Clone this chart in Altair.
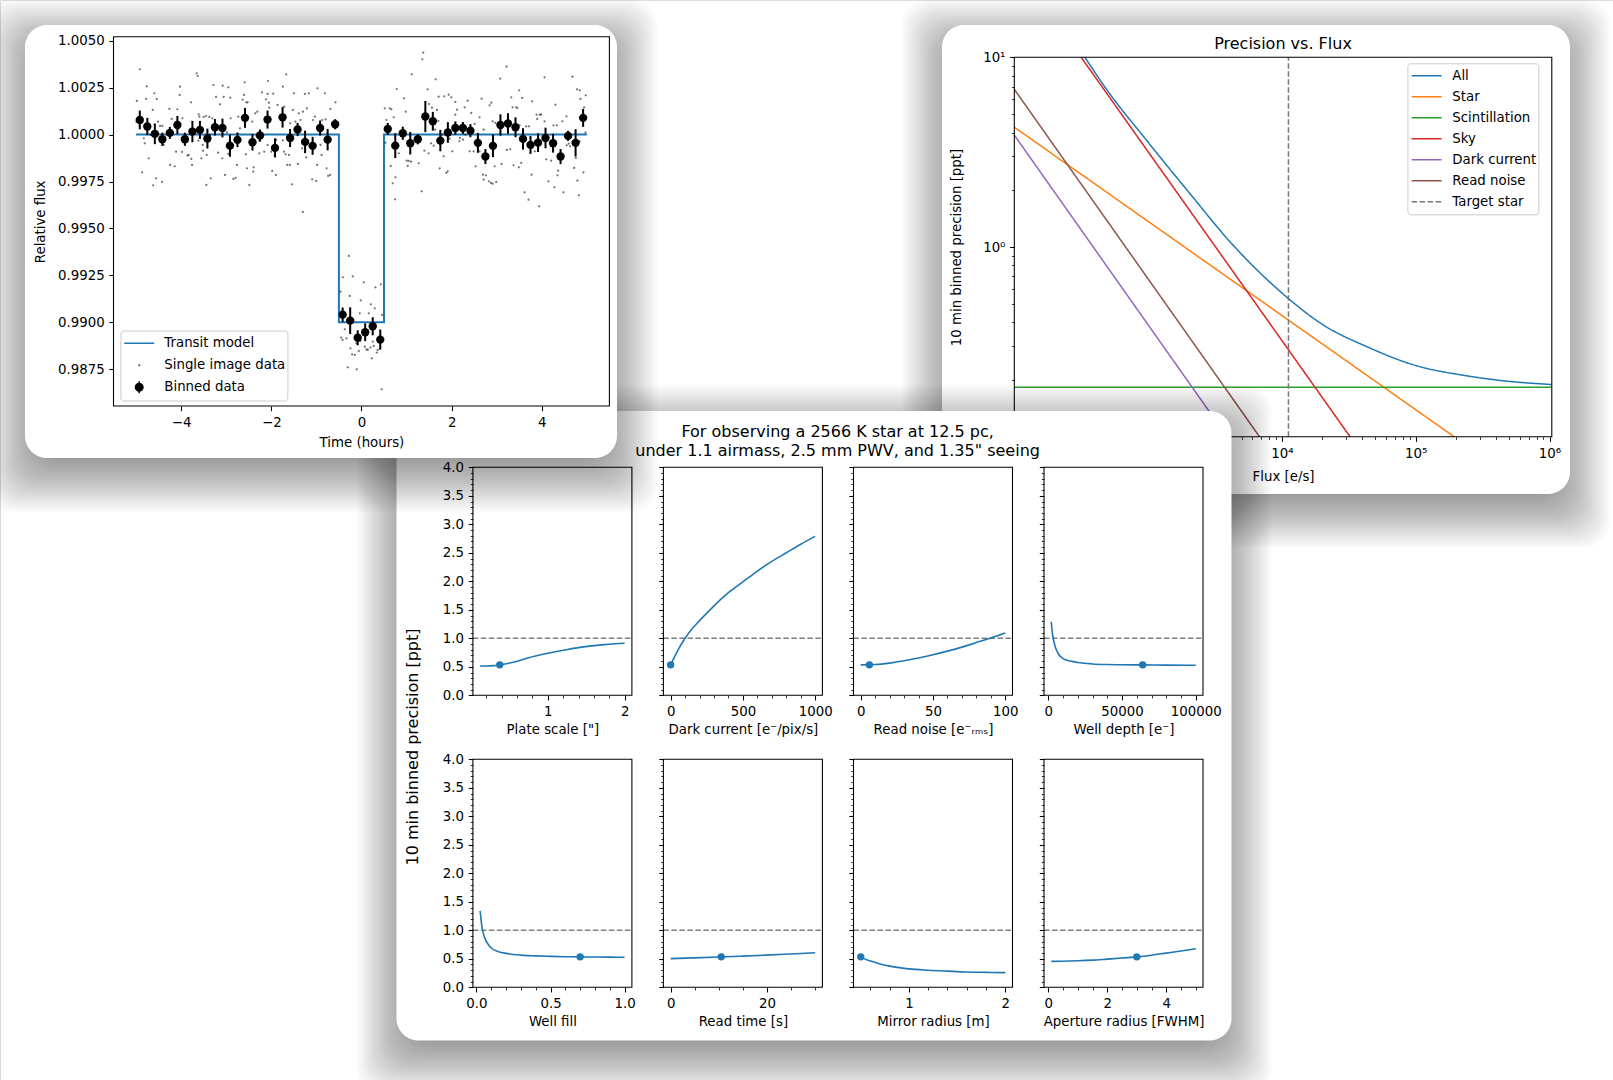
import pandas as pd
import altair as alt

FONT = "DejaVu Sans"
W, H = 1613, 1080
BLUE = "#1f77b4"
TICK_FS = 13.33
BIG_FS = 16

# ---------------------------------------------------------------- light curve
bin_time = [-4.917, -4.750, -4.583, -4.417, -4.250, -4.083, -3.917, -3.750, -3.583, -3.417,
            -3.250, -3.083, -2.917, -2.750, -2.583, -2.417, -2.250, -2.083, -1.917, -1.750,
            -1.583, -1.417, -1.250, -1.083, -0.917, -0.750, -0.583, -0.417, -0.250, -0.083,
            0.083, 0.250, 0.417, 0.583, 0.750, 0.917, 1.083, 1.250, 1.417, 1.583,
            1.750, 1.917, 2.083, 2.250, 2.417, 2.583, 2.750, 2.917, 3.083, 3.250,
            3.417, 3.583, 3.750, 3.917, 4.083, 4.250, 4.417, 4.583, 4.750, 4.917]
bin_ppm = [780, 430, 40, -250, 90, 510, -250, 160, 250, -210,
           390, 350, -590, -280, 890, -410, -50, 800, -710, 920,
           -180, 270, -390, -600, 350, -270, 550, -9590, -9910, -10820,
           -10530, -10210, -10920, 300, -590, 70, -460, -250, 960, 710,
           -320, 110, 350, 350, 210, -440, -1170, -600, 510, 590,
           390, -230, -550, -430, -180, -460, -1170, -70, -440, 890]
bin_err_ppm = [500, 460, 550, 350, 320, 480, 350, 570, 480, 530,
               440, 500, 590, 390, 530, 440, 320, 480, 510, 550,
               480, 350, 600, 480, 400, 570, 270, 380, 710, 400,
               470, 480, 540, 320, 660, 350, 600, 270, 830, 500,
               570, 550, 350, 320, 350, 530, 400, 600, 570, 550,
               530, 570, 480, 500, 550, 500, 400, 270, 730, 480]

# single exposures: (time [h], deviation from 1 [ppm])
single_points = [
    (-4.917, 3475), (-4.983, 1789), (-4.762, 2570), (-4.777, 1896), (-4.592, 2197), (-4.541, 1896),
    (-4.629, 1310), (-4.718, -1264), (-4.865, -2009), (-4.555, -2329), (-4.622, -2702), (-4.422, -2524),
    (-4.828, -199), (-4.806, -465), (-4.991, 689), (-4.681, -21), (-4.511, 689), (-4.467, 458),
    (-4.415, 458), (-4.385, -554), (-4.260, 1363), (-4.245, -1619), (-4.208, 831), (-4.142, -1690),
    (-4.083, 1345), (-4.024, 2552), (-4.031, 2109), (-3.972, 866), (-4.112, -909), (-3.979, -927),
    (-3.861, -1122), (-3.832, -1086), (-3.773, -1299), (-3.758, -1619), (-3.780, 1718), (-3.891, -21),
    (-3.861, -376), (-3.655, 3262), (-3.632, 3120), (-3.610, 1079), (-3.596, 955), (-3.618, -323),
    (-3.522, -554), (-3.551, -1264), (-3.514, -856), (-3.500, 937), (-3.448, 990), (-3.374, 937),
    (-3.433, -1086), (-3.359, -21), (-3.345, -2329), (-3.440, -2684), (-3.308, 866), (-3.285, 2641),
    (-3.226, 2002), (-3.182, -962), (-3.138, 1612), (-3.079, 2606), (-3.057, 2002), (-3.086, -1264),
    (-3.027, -2151), (-2.953, 2517), (-2.909, 1967), (-2.983, 121), (-2.953, -1033), (-2.901, 866),
    (-2.842, -2364), (-2.791, -2311), (-2.761, -1619), (-2.732, 955), (-2.695, 334), (-2.636, 1860),
    (-2.606, 2109), (-2.591, 2783), (-2.554, 1718), (-2.525, 1718), (-2.562, -1051), (-2.540, -1796),
    (-2.488, -2684), (-2.422, 689), (-2.392, -1743), (-2.355, 1132), (-2.311, 1221), (-2.326, -110),
    (-2.267, -323), (-2.267, -998), (-2.208, 2251), (-2.156, -909), (-2.119, 1878), (-2.082, 2162),
    (-2.075, 2854), (-2.052, 1700), (-2.045, 1434), (-2.082, -554), (-1.957, 2180), (-2.001, -909),
    (-1.979, -1938), (-1.897, -2151), (-1.927, -1086), (-1.890, -288), (-1.861, 1576), (-1.742, 2552),
    (-1.713, 1487), (-1.669, 3209), (-1.720, -909), (-1.683, -1051), (-1.742, -305), (-1.646, -1619),
    (-2.399, -1974),
    (-1.499, 2197), (-1.521, 1310), (-1.388, 1132), (-1.299, 1221), (-1.255, 2162), (-1.211, 1399),
    (-1.166, 2197), (-0.975, 2464), (-0.812, 2197), (-0.687, 1363), (-0.576, 1718), (-1.609, -1086),
    (-1.587, -1619), (-1.410, -1566), (-1.543, -2648), (-1.299, -4122), (-1.226, -1211), (-1.314, -731),
    (-1.351, 777), (-1.078, 777), (-1.034, 955), (-0.871, 777), (-0.797, 813), (-0.908, -554),
    (-0.886, -1086), (-0.982, -1619), (-0.775, -1796), (-0.738, -2205), (-0.694, -2151), (-1.093, -2382),
    (-1.004, -2471), (-1.462, 689), (-1.580, 600),
    (0.517, 1399), (0.628, 1399), (0.664, 1345), (0.716, 919), (0.783, 2428), (0.945, 1931),
    (0.982, 1221), (1.115, 3209), (1.351, 4008), (1.370, 4360), (1.469, 2410), (1.646, 2943),
    (1.713, 2020), (0.532, -430), (0.554, 777), (0.650, -1672), (0.694, -2595), (0.753, -2276),
    (0.746, -3447), (0.827, -998), (1.004, -1388), (1.048, -1406), (1.100, -1441), (1.026, -1672),
    (1.270, -1530), (1.336, -3021), (1.395, -856), (1.491, -998), (1.499, 1629), (1.565, 1434),
    (1.676, 1310), (1.543, -465), (1.602, -589), (1.632, 263), (1.705, 724), (1.735, -1796),
    (1.838, 2038), (1.934, 2126), (1.993, 1984), (2.082, 1736), (2.119, 1328), (2.289, 1452),
    (2.355, 1807), (2.436, 1150), (2.510, 564), (2.621, 919), (2.665, 1913), (2.710, 263),
    (2.842, 1558), (2.879, 1700), (2.909, 706), (2.968, 618), (3.079, 2978), (3.219, 3617),
    (3.322, 1984), (3.352, 1452), (3.433, 1452), (3.463, 1416), (3.499, 2357), (3.566, 1949),
    (3.507, 493), (3.654, 440), (3.714, 440), (3.787, 1771), (3.883, 1061), (3.957, 1061),
    (3.898, 831), (4.061, 3049), (4.061, 706), (3.987, 1061), (4.304, 1594), (4.260, 493),
    (4.334, 493), (4.459, 706), (4.548, 973), (4.681, 3085), (4.784, 2410), (4.843, 2357),
    (4.858, 1896), (4.976, 2091), (4.939, 1452), (4.969, 103), (4.910, 706), (4.843, -359),
    (1.794, -4), (1.824, -1157), (1.883, -2045), (1.912, -1956), (2.016, -891), (2.171, -359),
    (2.252, -270), (2.399, -891), (2.488, -891), (2.532, -1690), (2.621, -891), (2.695, -2134),
    (2.710, -2400), (2.761, -2169), (2.828, -2489), (2.872, -2577), (2.909, -2613), (2.990, -2524),
    (2.953, -1690), (3.108, -1566), (3.226, -820), (3.300, -785), (3.374, -1637), (3.492, -1743),
    (3.544, -1512), (3.618, -3074), (3.706, -3465), (3.773, -2134), (3.846, -891), (3.942, -3820),
    (4.097, -1317), (4.149, -2489), (4.208, -1388), (4.282, -2808), (4.348, -2169), (4.363, -1921),
    (4.481, -3074), (4.555, -572), (4.599, -483), (4.629, -625), (4.718, -1779), (4.755, -1246),
    (4.791, -2453), (4.821, -3234), (4.924, -2009), (2.185, -181), (2.082, 1061), (2.303, -4),
    (1.956, -217), (2.584, -234),
    (-0.281, -6465), (-0.413, -7601), (-0.192, -7547), (0.052, -7867), (0.310, -8133), (0.428, -7973),
    (-0.465, -8364), (-0.258, -8595), (-0.015, -8825), (0.207, -9038), (0.295, -9251), (-0.037, -9518),
    (0.162, -9518), (0.458, -9606), (-0.369, -10370), (-0.450, -10813), (-0.421, -10938), (-0.332, -10849),
    (-0.244, -11381), (-0.207, -11701), (-0.148, -11736), (-0.059, -11523), (0.074, -11293), (0.111, -11435),
    (0.140, -11470), (0.199, -11346), (0.251, -11026), (0.273, -11257), (0.340, -11612), (0.362, -11470),
    (0.229, -11914), (-0.303, -12393), (-0.103, -12500), (0.450, -13565), (-0.111, -11115), (-0.022, -10991),
]

model_time = [-5.0, -0.5, -0.5, 0.5, 0.5, 5.0]
model_flux = [1.0, 1.0, 0.99, 0.99, 1.0, 1.0]
lc_legend_labels = ["Transit model", "Single image data", "Binned data"]
lc_xticks = [-4, -2, 0, 2, 4]
lc_yticks = [0.9875, 0.99, 0.9925, 0.995, 0.9975, 1.0, 1.0025, 1.005]

# ---------------------------------------------------------------- precision vs flux
comp_names = ["All", "Star", "Scintillation", "Sky", "Dark current", "Read noise", "Target star"]
comp_colors = ["#1f77b4", "#ff7f0e", "#2ca02c", "#d62728", "#9467bd", "#8c564b", "#777777"]
all_flux = [337, 494, 971, 2032, 4246, 6950, 11220, 19720, 43950, 100000, 230700, 481900, 1040000]
all_prec = [10.0, 6.71, 3.66, 1.93, 1.035, 0.724, 0.534, 0.394, 0.2965, 0.2373, 0.2104, 0.1962, 0.1884]
star_flux, star_prec = [100, 193600], [4.28, 0.1]
scint_flux, scint_prec = [100, 1040000], [0.1824, 0.1824]
sky_flux, sky_prec = [316, 32300], [10.0, 0.1]
dark_flux, dark_prec = [100, 3890], [3.89, 0.1]
read_flux, read_prec = [100, 6800], [6.78, 0.1]
target_flux = 11190

# ---------------------------------------------------------------- parameter grid
target_prec = 0.534
grid_panels = [
    dict(title='Plate scale ["]', x=[0.12, 0.2, 0.3, 0.375, 0.55, 0.74, 1.0, 1.24, 1.49, 1.74, 2.0],
         y=[0.515, 0.515, 0.52, 0.534, 0.58, 0.655, 0.737, 0.80, 0.854, 0.889, 0.912],
         px=0.375, dom=[0.026, 2.094], major=[1, 2], minor=[0.2, 0.4, 0.6, 0.8, 1.2, 1.4, 1.6, 1.8], fmt="d"),
    dict(title="Dark current [e\u207b/pix/s]",
         x=[0, 10, 25, 50, 100, 150, 200, 300, 400, 500, 600, 700, 800, 900, 1000],
         y=[0.534, 0.585, 0.665, 0.79, 1.0, 1.17, 1.31, 1.57, 1.80, 1.99, 2.18, 2.35, 2.50, 2.65, 2.79],
         px=0, dom=[-50, 1050], major=[0, 500, 1000], minor=[100, 200, 300, 400, 600, 700, 800, 900], fmt="d"),
    dict(title="Read noise [e\u207b\u1d63\u2098\u209b]", x=[0, 10, 20, 30, 40, 50, 60, 70, 80, 90, 100],
         y=[0.534, 0.54, 0.565, 0.605, 0.655, 0.712, 0.775, 0.845, 0.925, 1.005, 1.093],
         px=6, dom=[-5, 105], major=[0, 50, 100], minor=[10, 20, 30, 40, 60, 70, 80, 90], fmt="d"),
    dict(title="Well depth [e\u207b]",
         x=[2000, 3000, 4000, 5000, 7000, 10000, 15000, 20000, 30000, 40000, 50000, 64000, 80000, 100000],
         y=[1.29, 1.05, 0.92, 0.83, 0.72, 0.645, 0.60, 0.575, 0.55, 0.54, 0.536, 0.534, 0.53, 0.527],
         px=64000, dom=[-2900, 104900], major=[0, 50000, 100000],
         minor=[10000, 20000, 30000, 40000, 60000, 70000, 80000, 90000], fmt="d"),
    dict(title="Well fill",
         x=[0.025, 0.035, 0.045, 0.06, 0.08, 0.1, 0.15, 0.2, 0.3, 0.4, 0.5, 0.6, 0.7, 0.8, 0.9, 1.0],
         y=[1.34, 1.1, 0.96, 0.84, 0.75, 0.69, 0.625, 0.595, 0.565, 0.552, 0.543, 0.537, 0.534, 0.531, 0.529, 0.527],
         px=0.7, dom=[-0.024, 1.049], major=[0, 0.5, 1.0], minor=[0.1, 0.2, 0.3, 0.4, 0.6, 0.7, 0.8, 0.9], fmt=".1f"),
    dict(title="Read time [s]", x=[0, 5, 10, 15, 20, 25, 30],
         y=[0.503, 0.517, 0.531, 0.547, 0.565, 0.585, 0.606],
         px=10.5, dom=[-1.5, 31.5], major=[0, 20], minor=[5, 10, 15, 25, 30], fmt="d"),
    dict(title="Mirror radius [m]", x=[0.5, 0.55, 0.6, 0.7, 0.8, 0.9, 1.0, 1.2, 1.4, 1.6, 1.8, 2.0],
         y=[0.534, 0.49, 0.462, 0.408, 0.372, 0.345, 0.324, 0.300, 0.283, 0.268, 0.262, 0.258],
         px=0.5, dom=[0.425, 2.075], major=[1, 2], minor=[0.6, 0.8, 1.2, 1.4, 1.6, 1.8], fmt="d"),
    dict(title="Aperture radius [FWHM]", x=[0.1, 0.5, 1.0, 1.5, 2.0, 2.5, 3.0, 3.5, 4.0, 4.5, 5.0],
         y=[0.455, 0.457, 0.465, 0.477, 0.495, 0.513, 0.534, 0.563, 0.600, 0.637, 0.677],
         px=3.0, dom=[-0.145, 5.245], major=[0, 2, 4], minor=[0.5, 1, 1.5, 2.5, 3, 3.5, 4.5, 5], fmt="d"),
]
grid_yticks = [0, 0.5, 1.0, 1.5, 2.0, 2.5, 3.0, 3.5, 4.0]
grid_yminor = [v / 10 for v in range(1, 40) if v % 5]

# ---------------------------------------------------------------- layout (pixels)
CARD_LC = (25, 25, 617, 458)
CARD_PF = (942, 25, 1570, 494)
CARD_GR = (396.5, 411, 1231.5, 1040.5)
LC_X, LC_Y = [113.5, 609.4], [406.0, 36.7]
PF_X, PF_Y = [1014.3, 1551.8], [436.7, 57.3]
GRID_LEFT = [472.9, 663.4, 853.5, 1044.0]
GRID_W = 159
GRID_ROWS = [(695.3, 467.3), (987.3, 759.3)]

ONE = pd.DataFrame({"k": [0]})


def major_axis(orient, pos, values, fmt=None, title=None, labels=True, label_expr=None, title_pad=5):
    kw = dict(orient=orient, values=values, zindex=1, grid=False, domain=False,
              ticks=True, tickSize=4.67, tickWidth=1.07, tickColor="black",
              labels=labels, labelFont=FONT, labelFontSize=TICK_FS, labelColor="black",
              labelPadding=4.67, labelFlush=False, labelOverlap=False,
              titleFont=FONT, titleFontSize=TICK_FS, titleColor="black",
              titleFontWeight="normal", titlePadding=title_pad, title=title)
    kw["offset"] = (pos - H) if orient == "bottom" else -pos
    if fmt:
        kw["format"] = fmt
    if label_expr:
        kw["labelExpr"] = label_expr
    return alt.Axis(**kw)


def minor_axis(orient, pos, values):
    return alt.Axis(orient=orient, values=values, zindex=1, grid=False, domain=False,
                    ticks=True, tickSize=2.67, tickWidth=0.8, tickColor="black",
                    labels=False, title=None,
                    offset=(pos - H) if orient == "bottom" else -pos)


def card_shadow(box, dy=14, opacity=0.016):
    x0, y0, x1, y1 = box
    rows = [dict(x0=x0 - s, x1=x1 + s, y0=y0 + dy - s, y1=y1 + dy + s) for s in range(-12, 42, 2)]
    return alt.Chart(pd.DataFrame(rows)).mark_rect(color="black", opacity=opacity, cornerRadius=26).encode(
        x=alt.X("x0:Q", scale=None, axis=None), x2="x1:Q",
        y=alt.Y("y0:Q", scale=None, axis=None), y2="y1:Q")


def card_face(box):
    x0, y0, x1, y1 = box
    return alt.Chart(ONE).mark_rect(color="white", cornerRadius=22).encode(
        x=alt.value(x0), x2=alt.value(x1), y=alt.value(y0), y2=alt.value(y1))


def text_at(text, x, y, size, angle=0, baseline="alphabetic", line_height=None):
    kw = dict(text=text, font=FONT, fontSize=size, color="black", align="center",
              baseline=baseline, angle=angle)
    if line_height:
        kw["lineHeight"] = line_height
    return alt.Chart(ONE).mark_text(**kw).encode(x=alt.value(x), y=alt.value(y))


def frame(xs, ys, xdom, ydom, xaxis=None, yaxis=None):
    return alt.Chart(ONE).mark_rect(fillOpacity=0, stroke="black", strokeWidth=1.07).encode(
        x=alt.XDatum(xdom[0], type="quantitative", scale=xs, axis=xaxis), x2=alt.X2Datum(xdom[1]),
        y=alt.YDatum(ydom[0], type="quantitative", scale=ys, axis=yaxis), y2=alt.Y2Datum(ydom[1]))


# ================================================================ light-curve card
lc_xdom = [-5.5, 5.5]
lc_ydom = [0.985545, 1.005213]
xs1 = alt.Scale(domain=lc_xdom, range=LC_X, nice=False, zero=False)
ys1 = alt.Scale(domain=lc_ydom, range=LC_Y, nice=False, zero=False)

model_df = pd.DataFrame({"t": model_time, "f": model_flux, "i": list(range(len(model_time)))})
single_df = pd.DataFrame({"t": [p[0] for p in single_points],
                          "f": [1 + p[1] * 1e-6 for p in single_points]})
bins_df = pd.DataFrame({"t": bin_time,
                        "f": [1 + v * 1e-6 for v in bin_ppm],
                        "lo": [1 + (v - e) * 1e-6 for v, e in zip(bin_ppm, bin_err_ppm)],
                        "hi": [1 + (v + e) * 1e-6 for v, e in zip(bin_ppm, bin_err_ppm)]})

lc_model = alt.Chart(model_df).mark_line(color=BLUE, strokeWidth=2).encode(
    x=alt.X("t:Q", scale=xs1, axis=None), y=alt.Y("f:Q", scale=ys1, axis=None), order="i:Q")
lc_single = alt.Chart(single_df).mark_circle(color="black", opacity=0.55, size=5).encode(
    x=alt.X("t:Q", scale=xs1, axis=None), y=alt.Y("f:Q", scale=ys1, axis=None))
lc_err = alt.Chart(bins_df).mark_rule(color="black", strokeWidth=2).encode(
    x=alt.X("t:Q", scale=xs1, axis=None), y=alt.Y("lo:Q", scale=ys1, axis=None), y2="hi:Q")
lc_bins = alt.Chart(bins_df).mark_circle(color="black", opacity=1, size=70).encode(
    x=alt.X("t:Q", scale=xs1,
            axis=major_axis("bottom", LC_Y[0], lc_xticks, fmt="d", title="Time (hours)", title_pad=7)),
    y=alt.Y("f:Q", scale=ys1,
            axis=major_axis("left", LC_X[0], lc_yticks, fmt=".4f", title="Relative flux", title_pad=10)))

leg_lc = alt.Legend(title=None, orient="none", legendX=120.4, legendY=330.5, direction="vertical",
                    fillColor="white", strokeColor="#cccccc", cornerRadius=3, padding=2,
                    clipHeight=21.5, rowPadding=0, symbolSize=225, symbolStrokeWidth=1.5,
                    symbolOpacity=1, symbolOffset=8.3, labelOffset=16.6, labelFont=FONT,
                    labelFontSize=TICK_FS, labelColor="black", labelLimit=400)
lc_shapes = ["M-2,0H2",
             "M-0.06,0A0.06,0.06,0,1,0,0.06,0A0.06,0.06,0,1,0,-0.06,0Z",
             "M0,-0.8V0.8M-0.5,0A0.5,0.5,0,1,0,0.5,0A0.5,0.5,0,1,0,-0.5,0Z"]
lc_key = alt.Chart(pd.DataFrame({"label": lc_legend_labels})).mark_point(filled=True, opacity=0).encode(
    x=alt.XDatum(0.0, type="quantitative", scale=xs1, axis=None),
    y=alt.YDatum(1.0, type="quantitative", scale=ys1, axis=None),
    shape=alt.Shape("label:N", scale=alt.Scale(domain=lc_legend_labels, range=lc_shapes), legend=leg_lc),
    fill=alt.Fill("label:N", scale=alt.Scale(domain=lc_legend_labels,
                                            range=["transparent", "#666666", "#000000"]), legend=leg_lc),
    stroke=alt.Stroke("label:N", scale=alt.Scale(domain=lc_legend_labels,
                                                range=[BLUE, "#666666", "#000000"]), legend=leg_lc))

card_lc = alt.layer(card_shadow(CARD_LC), card_face(CARD_LC), lc_model, lc_single, lc_err, lc_bins,
                    lc_key, frame(xs1, ys1, lc_xdom, lc_ydom)).resolve_axis(x="independent", y="independent")

# ================================================================ precision-vs-flux card
pf_xdom, pf_ydom = [100, 1040000], [0.1, 10]
xs2 = alt.Scale(type="log", domain=pf_xdom, range=PF_X, nice=False)
ys2 = alt.Scale(type="log", domain=pf_ydom, range=PF_Y, nice=False)
series = [("All", all_flux, all_prec), ("Star", star_flux, star_prec),
          ("Scintillation", scint_flux, scint_prec), ("Sky", sky_flux, sky_prec),
          ("Dark current", dark_flux, dark_prec), ("Read noise", read_flux, read_prec)]
pf_rows = [dict(component=n, flux=f, prec=p) for n, fl, pr in series for f, p in zip(fl, pr)]
pf_df = pd.DataFrame(pf_rows)

leg_pf = alt.Legend(title=None, orient="none", legendX=1407.4, legendY=63.3, direction="vertical",
                    fillColor="white", strokeColor="#cccccc", cornerRadius=3, padding=2,
                    clipHeight=20.93, rowPadding=0, symbolType="M-2,0H2", symbolSize=225,
                    symbolStrokeWidth=1.5, symbolOffset=8.7, labelOffset=17.2, labelFont=FONT,
                    labelFontSize=TICK_FS, labelColor="black", labelLimit=400)
cscale = alt.Scale(domain=comp_names, range=comp_colors)
dscale = alt.Scale(domain=comp_names, range=[[1, 0]] * 6 + [[5.5, 2.5]])

pf_x_major = [1e4, 1e5, 1e6]
pf_x_minor = [5000, 6000, 7000, 8000, 9000] + [k * 1e4 for k in range(2, 10)] + [k * 1e5 for k in range(2, 10)]
pf_y_major = [1, 10]
pf_y_minor = [k / 10 for k in range(2, 10)] + list(range(2, 10))

pf_lines = alt.Chart(pf_df).mark_line(strokeWidth=1.5, interpolate="monotone").encode(
    x=alt.X("flux:Q", scale=xs2,
            axis=major_axis("bottom", PF_Y[0], pf_x_major, title="Flux [e/s]", title_pad=10,
                            label_expr="datum.value < 50000 ? '10\u2074' : datum.value < 500000 ? '10\u2075' : '10\u2076'")),
    y=alt.Y("prec:Q", scale=ys2,
            axis=major_axis("left", PF_X[0], pf_y_major, title="10 min binned precision [ppt]", title_pad=19,
                            label_expr="datum.value > 5 ? '10\u00b9' : '10\u2070'")),
    color=alt.Color("component:N", scale=cscale, legend=leg_pf),
    strokeDash=alt.StrokeDash("component:N", scale=dscale, legend=leg_pf))
pf_target = alt.Chart(pd.DataFrame({"flux": [target_flux], "component": ["Target star"]})).mark_rule(
    strokeWidth=1.5).encode(
    x=alt.X("flux:Q", scale=xs2, axis=None),
    y=alt.YDatum(pf_ydom[0], type="quantitative", scale=ys2, axis=None), y2=alt.Y2Datum(pf_ydom[1]),
    color=alt.Color("component:N", scale=cscale, legend=leg_pf),
    strokeDash=alt.StrokeDash("component:N", scale=dscale, legend=leg_pf))
pf_frame = frame(xs2, ys2, pf_xdom, pf_ydom,
                 xaxis=minor_axis("bottom", PF_Y[0], pf_x_minor),
                 yaxis=minor_axis("left", PF_X[0], pf_y_minor))

card_pf = alt.layer(card_shadow(CARD_PF), card_face(CARD_PF), pf_lines, pf_target, pf_frame,
                    text_at("Precision vs. Flux", 1283, 48.8, BIG_FS)).resolve_axis(
    x="independent", y="independent")

# ================================================================ parameter-grid card
panels = []
for idx, p in enumerate(grid_panels):
    row, col = divmod(idx, 4)
    xr = [GRID_LEFT[col], GRID_LEFT[col] + GRID_W]
    yr = list(GRID_ROWS[row])
    xs = alt.Scale(domain=p["dom"], range=xr, nice=False, zero=False)
    ys = alt.Scale(domain=[0, 4], range=yr, nice=False, zero=False)
    curve = pd.DataFrame({"x": p["x"], "y": p["y"]})
    marker = pd.DataFrame({"x": [p["px"]], "y": [target_prec]})
    ref = alt.Chart(ONE).mark_rule(color="#808080", strokeWidth=1.5, strokeDash=[5.5, 2.5]).encode(
        x=alt.XDatum(p["dom"][0], type="quantitative", scale=xs, axis=None), x2=alt.X2Datum(p["dom"][1]),
        y=alt.YDatum(1.0, type="quantitative", scale=ys, axis=None))
    line = alt.Chart(curve).mark_line(color=BLUE, strokeWidth=1.6, interpolate="monotone").encode(
        x=alt.X("x:Q", scale=xs, axis=major_axis("bottom", yr[0], p["major"], fmt=p["fmt"],
                                                 title=p["title"], title_pad=5)),
        y=alt.Y("y:Q", scale=ys, axis=major_axis("left", xr[0], grid_yticks, fmt=".1f",
                                                 labels=(col == 0))))
    dot = alt.Chart(marker).mark_circle(color=BLUE, opacity=1, size=55).encode(
        x=alt.X("x:Q", scale=xs, axis=None), y=alt.Y("y:Q", scale=ys, axis=None))
    box = frame(xs, ys, p["dom"], [0, 4],
                xaxis=minor_axis("bottom", yr[0], p["minor"]),
                yaxis=minor_axis("left", xr[0], grid_yminor))
    panels.append(alt.layer(ref, line, dot, box).resolve_axis(x="independent", y="independent"))

grid_title = text_at(["For observing a 2566 K star at 12.5 pc,",
                      "under 1.1 airmass, 2.5 mm PWV, and 1.35\" seeing"], 837.6, 436.6, BIG_FS,
                     line_height=19.6)
grid_ylabel = text_at("10 min binned precision [ppt]", 413, 747, BIG_FS, angle=270, baseline="middle")

card_gr = alt.layer(card_shadow(CARD_GR), card_face(CARD_GR), grid_title, grid_ylabel, *panels).resolve_scale(
    x="independent", y="independent")

# ================================================================ page
chart = alt.layer(card_pf, card_gr, card_lc).resolve_scale(
    x="independent", y="independent").properties(
    width=W, height=H, autosize=alt.AutoSizeParams(type="none"), padding=0, background="white"
).configure_view(strokeOpacity=0).configure(font=FONT)

chart.save("out.html", embed_options={"renderer": "svg", "actions": False})
